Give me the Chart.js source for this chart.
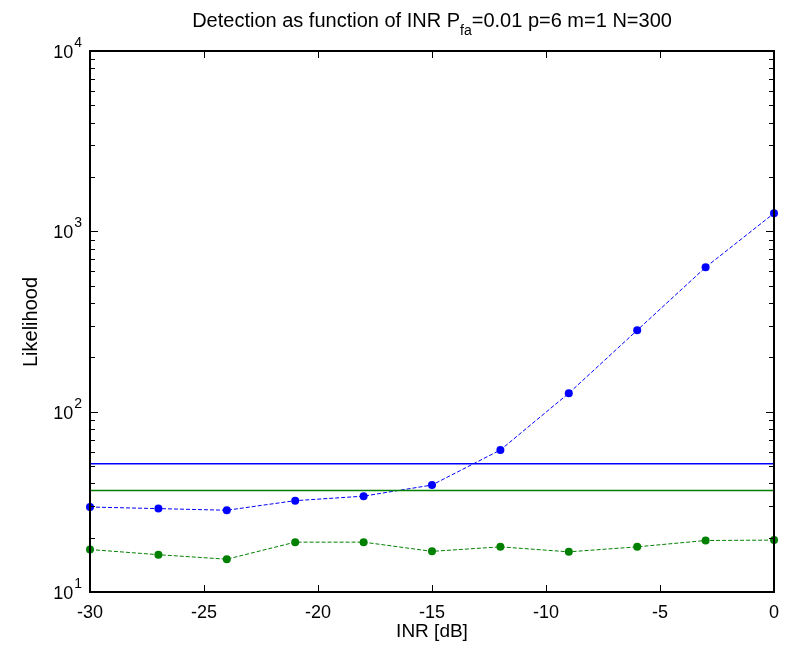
<!DOCTYPE html>
<html>
<head>
<meta charset="utf-8">
<script src="https://cdn.jsdelivr.net/npm/chart.js@4.4.1/dist/chart.umd.min.js"></script>
<style>
  html, body { margin: 0; padding: 0; background: #fff; }
  #wrap { width: 790px; height: 649px; }
</style>
</head>
<body>
<div id="wrap"><canvas id="detection-chart" width="790" height="649"></canvas></div>
<script>
// data
const inr = [-30, -27, -24, -21, -18, -15, -12, -9, -6, -3, 0];
const likelihoodBlue = [29.6, 29.0, 28.4, 32.1, 34.0, 39.2, 61.3, 126.5, 282.8, 632, 1259];
const likelihoodGreen = [17.2, 16.1, 15.2, 18.9, 18.9, 16.8, 17.8, 16.7, 17.8, 19.3, 19.4];
const thresholdBlue = 51.5;
const thresholdGreen = 36.5;
const xTicks = [-30, -25, -20, -15, -10, -5, 0];
const yDecades = [10, 100, 1000, 10000];

const FONT = '"Liberation Sans", Arial, sans-serif';

function pts(ys) {
  return inr.map((x, i) => ({ x: x, y: ys[i] }));
}
function flat(v) {
  return [{ x: inr[0], y: v }, { x: inr[inr.length - 1], y: v }];
}

// axes, ticks, labels, title drawn matlab-style
const matlabAxes = {
  id: 'matlabAxes',
  afterDraw(chart) {
    const { ctx, chartArea: { left, right, top, bottom } } = chart;
    const xs = chart.scales.x, ys = chart.scales.y;
    ctx.save();
    ctx.strokeStyle = '#000';
    ctx.lineWidth = 2;
    ctx.strokeRect(left, top, right - left, bottom - top);

    ctx.lineWidth = 1;
    ctx.beginPath();
    xTicks.forEach(v => {
      const px = Math.round(xs.getPixelForValue(v)) + 0.5;
      ctx.moveTo(px, bottom); ctx.lineTo(px, bottom - 7);
      ctx.moveTo(px, top); ctx.lineTo(px, top + 7);
    });
    yDecades.forEach((d, i) => {
      const py = Math.round(ys.getPixelForValue(d)) + 0.5;
      ctx.moveTo(left, py); ctx.lineTo(left + 8, py);
      ctx.moveTo(right, py); ctx.lineTo(right - 8, py);
      if (i < yDecades.length - 1) {
        for (let k = 2; k <= 9; k++) {
          const my = Math.round(ys.getPixelForValue(k * d)) + 0.5;
          ctx.moveTo(left, my); ctx.lineTo(left + 5, my);
          ctx.moveTo(right, my); ctx.lineTo(right - 5, my);
        }
      }
    });
    ctx.stroke();

    ctx.fillStyle = '#000';
    // x tick labels
    ctx.font = '18px ' + FONT;
    ctx.textAlign = 'center';
    ctx.textBaseline = 'alphabetic';
    xTicks.forEach(v => {
      ctx.fillText(String(v), xs.getPixelForValue(v), bottom + 26);
    });

    // y tick labels 10^n
    yDecades.forEach(d => {
      const py = ys.getPixelForValue(d);
      const exp = String(Math.round(Math.log10(d)));
      ctx.font = '14px ' + FONT;
      const ew = ctx.measureText(exp).width;
      ctx.textAlign = 'left';
      ctx.fillText(exp, left - 8 - ew, py - 4);
      ctx.font = '18px ' + FONT;
      ctx.textAlign = 'right';
      ctx.fillText('10', left - 9 - ew, py + 7);
    });

    // axis titles
    ctx.font = '19px ' + FONT;
    ctx.textAlign = 'center';
    ctx.fillText('INR [dB]', (left + right) / 2, bottom + 45);
    ctx.save();
    ctx.font = '20px ' + FONT;
    ctx.translate(37, 322);
    ctx.rotate(-Math.PI / 2);
    ctx.fillText('Likelihood', 0, 0);
    ctx.restore();

    // title with subscript
    const p1 = 'Detection as function of INR P', sub = 'fa', p2 = '=0.01 p=6 m=1 N=300';
    ctx.textAlign = 'left';
    ctx.font = '20px ' + FONT;
    const w1 = ctx.measureText(p1).width, w2 = ctx.measureText(p2).width;
    ctx.font = '14px ' + FONT;
    const ws = ctx.measureText(sub).width;
    let x0 = (left + right) / 2 - (w1 + ws + w2) / 2;
    const base = 27;
    ctx.font = '20px ' + FONT;
    ctx.fillText(p1, x0, base);
    ctx.font = '14px ' + FONT;
    ctx.fillText(sub, x0 + w1, base + 8);
    ctx.font = '20px ' + FONT;
    ctx.fillText(p2, x0 + w1 + ws, base);
    ctx.restore();
  }
};

const config = {
  type: 'scatter',
  data: {
    datasets: [
      { data: flat(thresholdBlue), showLine: true, borderColor: '#0000ff', borderWidth: 1.5, pointRadius: 0 },
      { data: flat(thresholdGreen), showLine: true, borderColor: '#008000', borderWidth: 1.5, pointRadius: 0 },
      { data: pts(likelihoodBlue), showLine: true, borderColor: '#0000ff', backgroundColor: '#0000ff',
        borderWidth: 1, borderDash: [4, 2], pointRadius: 4, pointBorderWidth: 0, clip: false },
      { data: pts(likelihoodGreen), showLine: true, borderColor: '#008000', backgroundColor: '#008000',
        borderWidth: 1, borderDash: [4, 2], pointRadius: 4, pointBorderWidth: 0, clip: false }
    ]
  },
  options: {
    responsive: false,
    animation: false,
    events: [],
    layout: { padding: { left: 90, top: 51, right: 16, bottom: 57 } },
    scales: {
      x: { type: 'linear', min: -30, max: 0, display: false },
      y: { type: 'logarithmic', min: 10, max: 10000, display: false }
    },
    plugins: { legend: { display: false }, tooltip: { enabled: false }, title: { display: false } }
  },
  plugins: [matlabAxes]
};

const myChart = new Chart(document.getElementById('detection-chart'), config);
</script>
</body>
</html>
